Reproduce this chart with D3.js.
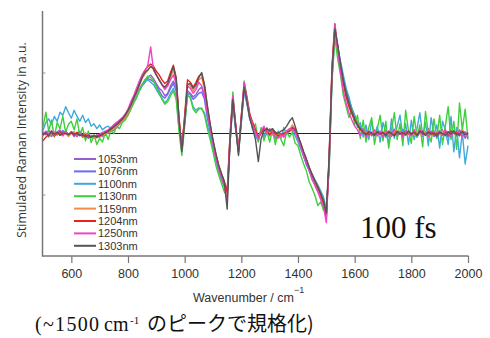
<!DOCTYPE html>
<html>
<head>
<meta charset="utf-8">
<script src="https://cdn.jsdelivr.net/npm/d3@7/dist/d3.min.js"></script>
<style>
html,body{margin:0;padding:0;background:#fff;}
svg{display:block;}
</style>
</head>
<body>
<svg id="chart" width="490" height="338"></svg>
<script>
// Wavenumbers 500..2000 step 10 (cm-1)
const wavenumbers = d3.range(500, 2001, 10);
const seriesNames = ["1053nm","1076nm","1100nm","1130nm","1159nm","1204nm","1250nm","1303nm"];
const seriesColors = ["#9b5ccf","#6b6cf0","#3fa9dc","#3fcf3a","#f28a4c","#e8231f","#ef43c4","#555555"];
const xTickValues = [600,800,1000,1200,1400,1600,1800,2000];

const s1053 = [
 3,-2,5,0,-4,2,6,-1,3,-3,
 2,-5,0,4,-6,-2,-8,-3,-7,-2,
 -6,1,-3,5,3,12,9,17,20,24,
 32,40,52,60,72,80,88,92,96,90,
 82,74,70,62,66,78,86,76,18,-24,
 22,70,66,60,64,72,76,60,30,6,
 -18,-40,-60,-74,-86,-100,-12,52,10,-28,
 24,72,50,26,12,2,-6,4,8,0,
 4,-2,2,-6,0,-4,5,3,10,2,
 -8,-24,-38,-50,-62,-76,-84,-94,-104,-118,
 -134,-45,95,168,142,112,88,68,52,38,
 28,14,12,2,5,-3,2,-4,6,0,
 -3,4,-5,2,7,-2,3,-6,1,4,
 -4,6,-1,3,-5,2,8,-3,0,-6,
 5,-2,3,-7,4,1,-4,6,-2,3,
 -5];
const s1076 = [
 -2,4,0,-5,3,1,-3,5,0,-4,
 3,0,-4,2,-6,-3,-1,-7,-4,-6,
 -2,-5,2,0,7,5,13,15,21,26,
 30,42,50,62,70,78,84,90,88,85,
 78,70,62,58,64,74,82,70,16,-22,
 20,66,64,56,60,66,68,56,26,4,
 -20,-42,-58,-72,-84,-98,-16,50,8,-26,
 20,70,52,28,14,0,-4,2,10,-2,
 0,4,-3,-2,-6,2,0,6,8,4,
 -10,-22,-36,-52,-60,-72,-82,-92,-102,-112,
 -132,-50,92,165,145,116,90,70,55,42,
 30,18,10,6,0,3,-4,2,-2,4,
 2,-6,3,-1,5,-4,0,7,-3,2,
 -2,5,-6,1,4,-3,6,0,-5,3,
 -1,6,-4,2,-6,5,0,-3,7,-8,
 2];
const s1100 = [
 5,18,24,15,28,20,35,30,44,34,
 25,38,28,20,30,18,24,12,16,8,
 14,6,10,12,8,15,18,16,24,28,
 34,44,54,62,72,80,86,88,84,80,
 72,64,58,50,56,66,74,62,10,-30,
 16,62,60,44,38,42,40,34,14,-4,
 -26,-46,-62,-76,-88,-100,-18,52,6,-30,
 18,70,48,22,18,-4,-12,8,-6,10,
 -4,8,-10,4,-8,10,-2,6,4,-4,
 -14,-26,-34,-48,-58,-66,-76,-84,-94,-104,
 -124,-52,90,160,138,118,96,74,60,40,
 28,10,18,-6,14,-10,20,-4,12,-14,
 18,2,-16,24,-8,12,30,-6,16,-18,
 22,-10,8,34,-4,18,-20,26,-2,14,
 -24,20,6,-18,28,-30,10,-40,2,-50,
 -20];
const s1130 = [
 10,35,4,22,-6,18,8,28,2,15,
 20,6,24,-4,10,-12,4,-15,-2,-18,
 -8,-14,2,-10,6,0,12,8,18,22,
 30,40,50,58,70,80,88,94,92,86,
 76,66,56,48,52,62,70,56,4,-36,
 12,64,58,40,34,40,42,30,8,-10,
 -30,-52,-68,-82,-96,-102,-4,68,10,-34,
 20,86,60,28,6,16,-14,10,-12,4,
 -14,6,-18,2,-10,-20,4,-6,2,-16,
 -20,-36,-50,-62,-80,-90,-102,-118,-112,-126,
 -118,-60,85,158,122,96,62,44,26,40,
 14,30,-8,22,-14,10,26,-18,8,30,
 -12,20,-24,6,34,-10,16,-20,38,4,
 -16,28,-6,14,-22,36,0,-14,24,-8,
 30,-18,12,44,-10,20,-26,50,6,40,
 -10];
const s1159 = [
 -4,2,-6,0,3,-3,4,-2,1,-5,
 0,3,-4,-1,-5,1,-6,-3,-8,-4,
 -6,-3,-1,2,5,8,12,18,20,26,
 34,44,56,66,78,90,98,104,110,106,
 96,88,80,74,78,92,104,86,24,-24,
 26,82,78,70,76,88,92,72,38,10,
 -14,-36,-54,-68,-80,-98,-6,56,14,-28,
 28,78,54,30,16,4,-6,2,6,2,
 2,0,-4,-2,-5,1,4,6,14,8,
 -4,-18,-32,-44,-56,-70,-80,-90,-102,-116,
 -136,-42,104,172,138,108,82,62,46,34,
 24,16,8,4,2,-2,0,3,-1,2,
 -2,3,0,-4,2,5,-1,0,-3,4,
 1,-2,4,0,-3,2,5,-4,0,3,
 -2,4,-1,3,-4,2,0,-3,5,-2,
 1];
const s1204 = [
 -12,-6,-2,2,-4,0,3,-3,2,-1,
 1,-3,2,-2,-4,-2,-6,-5,-3,-7,
 -4,-1,1,4,7,11,15,19,23,30,
 38,48,60,70,84,96,104,110,114,110,
 102,96,88,82,86,100,112,92,26,-24,
 30,88,84,76,84,94,98,78,44,14,
 -12,-34,-52,-66,-78,-96,-4,60,16,-28,
 30,82,58,32,18,6,-6,0,8,4,
 -2,4,0,-4,-2,0,2,4,10,6,
 -4,-18,-32,-44,-56,-68,-78,-88,-100,-114,
 -140,-38,110,180,142,108,82,60,44,32,
 22,14,6,2,0,-2,2,-1,3,0,
 2,-2,4,0,-3,3,1,-2,4,-1,
 0,3,-2,2,4,-3,1,3,-2,0,
 3,-1,2,-3,4,0,2,-4,3,1,
 -2];
const s1250 = [
 -4,3,-1,5,-3,2,0,-4,4,-2,
 3,-1,-5,0,-3,-7,-2,-6,-4,-3,
 -1,2,4,6,10,14,18,22,26,32,
 40,52,62,74,86,96,102,112,142,104,
 96,88,80,72,78,88,96,82,20,-28,
 24,78,74,66,72,84,78,64,34,8,
 -16,-40,-58,-72,-86,-112,-10,62,12,-30,
 26,84,56,28,14,2,-10,4,12,0,
 8,2,-6,-8,-2,-6,4,8,6,2,
 -8,-22,-36,-48,-60,-74,-86,-96,-108,-120,
 -146,-48,106,178,136,100,70,50,34,22,
 12,6,-4,8,-6,4,-2,6,-4,2,
 -6,4,0,-5,6,-2,3,-6,5,0,
 -4,5,-3,6,-2,0,-5,4,2,-6,
 4,-3,6,0,-5,3,-2,5,-6,2,
 -8];
const s1303 = [
 -2,1,-4,3,-1,2,-3,1,0,-2,
 2,-1,0,-3,-2,-5,-3,-6,-4,-5,
 -3,-2,2,4,8,11,15,20,24,30,
 38,46,58,68,80,92,100,104,110,106,
 96,88,80,76,82,96,110,90,24,-30,
 20,80,82,74,80,92,100,80,46,16,
 -10,-32,-52,-66,-80,-124,-14,56,10,-36,
 24,76,52,24,8,-10,-46,-8,4,8,
 4,8,2,0,4,6,12,20,26,12,
 -4,-16,-30,-42,-56,-68,-78,-88,-98,-110,
 -130,-36,100,172,146,114,88,66,50,36,
 24,14,8,2,-2,3,0,-3,2,-1,
 1,-3,2,0,-4,3,-1,2,-2,4,
 -1,2,-3,4,0,-2,3,-1,1,-4,
 2,0,-3,3,-1,4,-2,0,3,-2,
 1];
const seriesValues = [s1053,s1076,s1100,s1130,s1159,s1204,s1250,s1303];

const svg = d3.select("#chart");
const x = d3.scaleLinear().domain([500, 2000]).range([43, 468]);
const y = d3.scaleLinear().domain([-200, 200]).range([255.5, 11.5]);

// x axis
const xAxis = svg.append("g")
  .attr("transform", "translate(0,256)")
  .call(d3.axisBottom(x).tickValues(xTickValues).tickSize(7).tickSizeOuter(0).tickPadding(6).tickFormat(d3.format("d")));
xAxis.select(".domain").remove();
xAxis.selectAll(".tick line").attr("stroke", "#777").attr("stroke-width", 1.2);
xAxis.selectAll(".tick text").attr("fill", "#333").style("font-family", "'Liberation Sans', Arial, sans-serif").style("font-size", "12.5px");

// y axis ticks (inward)
const yAxis = svg.append("g")
  .attr("transform", "translate(42.5,0)")
  .call(d3.axisRight(y).tickValues([-100, 0, 100]).tickSize(3).tickFormat(""));
yAxis.select(".domain").remove();
yAxis.selectAll(".tick line").attr("stroke", "#999");

// axis lines
svg.append("line").attr("x1", 42.5).attr("x2", 42.5).attr("y1", 11).attr("y2", 256.5)
  .attr("stroke", "#777").attr("stroke-width", 1.5);
svg.append("line").attr("x1", 42).attr("x2", 468.5).attr("y1", 256).attr("y2", 256)
  .attr("stroke", "#777").attr("stroke-width", 1.5);

// zero line
svg.append("line").attr("x1", 42.5).attr("x2", x(2000)).attr("y1", y(0)).attr("y2", y(0))
  .attr("stroke", "#222").attr("stroke-width", 1.2);

// spectra
const line = d3.line().x((d, i) => x(wavenumbers[i])).y(d => y(d));
seriesValues.forEach((vals, k) => {
  svg.append("path").datum(vals)
    .attr("d", line)
    .attr("fill", "none")
    .attr("stroke", seriesColors[k])
    .attr("stroke-width", 1.4)
    .attr("stroke-linejoin", "round");
});

// legend
const leg = svg.append("g").attr("transform", "translate(74,159)");
seriesNames.forEach((n, k) => {
  const g = leg.append("g").attr("transform", `translate(0,${k * 12.4})`);
  g.append("line").attr("x1", 0).attr("x2", 22).attr("y1", 0).attr("y2", 0)
    .attr("stroke", seriesColors[k]).attr("stroke-width", 2);
  g.append("text").attr("x", 24).attr("y", 4)
    .attr("fill", "#333")
    .style("font-family", "'Liberation Sans', Arial, sans-serif").style("font-size", "11px")
    .text(n);
});

// y title
svg.append("text")
  .attr("transform", "translate(26,140) rotate(-90)")
  .attr("text-anchor", "middle")
  .attr("fill", "#333")
  .style("font-family", "'Open Sans', sans-serif").style("font-size", "12.3px")
  .text("Stimulated Raman Intensity in a.u.");

// x title
const xt = svg.append("text")
  .attr("x", 193).attr("y", 302)
  .attr("fill", "#333")
  .style("font-family", "'Liberation Sans', Arial, sans-serif").style("font-size", "12.5px");
xt.append("tspan").text("Wavenumber / cm");
xt.append("tspan").attr("dy", -9).style("font-size", "9px").text("\u22121");

// 100 fs label
svg.append("text").attr("x", 360).attr("y", 238)
  .attr("fill", "#111")
  .style("font-family", "'Liberation Serif', 'Times New Roman', serif").style("font-size", "31px")
  .text("100 fs");

// caption
const cap = svg.append("text").attr("y", 331).attr("fill", "#111")
  .style("font-family", "'Liberation Serif', serif").style("font-size", "20px");
cap.append("tspan").attr("x", 35).attr("textLength", 64).text("(~1500");
cap.append("tspan").attr("x", 104).text("cm");
cap.append("tspan").attr("x", 130).attr("dy", -7).style("font-size", "11px").text("-1");
cap.append("tspan").attr("x", 147).attr("dy", 7)
  .style("font-family", "'Noto Sans CJK JP', sans-serif").style("font-size", "20px")
  .text("のピークで規格化)");
</script>
</body>
</html>
